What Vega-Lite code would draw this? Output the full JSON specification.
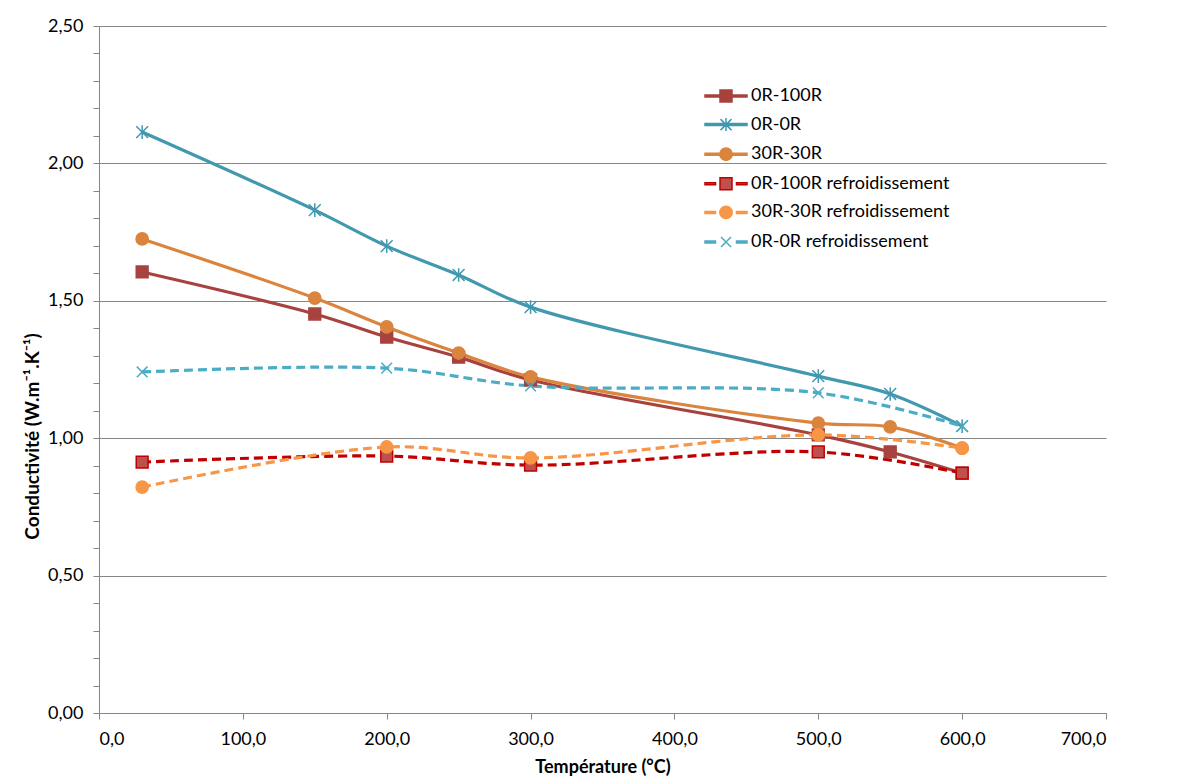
{
  "$schema": "https://vega.github.io/schema/vega-lite/v6.json",
  "autosize": "none",
  "width": 1007,
  "height": 687,
  "padding": {"left": 99, "top": 26, "right": 78, "bottom": 63},
  "background": "white",
  "config": {
    "locale": {"number": {"decimal": ",", "thousands": "\u00a0", "grouping": [3], "currency": ["", "\u00a0€"]}},
    "view": {"stroke": null},
    "font": "Lato"
  },
  "data": {
    "values": [
      {"series": "0R-100R", "t": 30, "k": 1.605},
      {"series": "0R-100R", "t": 150, "k": 1.452},
      {"series": "0R-100R", "t": 200, "k": 1.368},
      {"series": "0R-100R", "t": 250, "k": 1.295},
      {"series": "0R-100R", "t": 300, "k": 1.212},
      {"series": "0R-100R", "t": 500, "k": 1.012},
      {"series": "0R-100R", "t": 550, "k": 0.950},
      {"series": "0R-100R", "t": 600, "k": 0.873},
      {"series": "0R-0R", "t": 30, "k": 2.114},
      {"series": "0R-0R", "t": 150, "k": 1.830},
      {"series": "0R-0R", "t": 200, "k": 1.699},
      {"series": "0R-0R", "t": 250, "k": 1.594},
      {"series": "0R-0R", "t": 300, "k": 1.477},
      {"series": "0R-0R", "t": 500, "k": 1.226},
      {"series": "0R-0R", "t": 550, "k": 1.161},
      {"series": "0R-0R", "t": 600, "k": 1.044},
      {"series": "30R-30R", "t": 30, "k": 1.725},
      {"series": "30R-30R", "t": 150, "k": 1.510},
      {"series": "30R-30R", "t": 200, "k": 1.405},
      {"series": "30R-30R", "t": 250, "k": 1.310},
      {"series": "30R-30R", "t": 300, "k": 1.223},
      {"series": "30R-30R", "t": 500, "k": 1.055},
      {"series": "30R-30R", "t": 550, "k": 1.041},
      {"series": "30R-30R", "t": 600, "k": 0.964},
      {"series": "0R-100R refroidissement", "t": 30, "k": 0.913},
      {"series": "0R-100R refroidissement", "t": 200, "k": 0.935},
      {"series": "0R-100R refroidissement", "t": 300, "k": 0.902},
      {"series": "0R-100R refroidissement", "t": 500, "k": 0.950},
      {"series": "0R-100R refroidissement", "t": 600, "k": 0.873},
      {"series": "30R-30R refroidissement", "t": 30, "k": 0.822},
      {"series": "30R-30R refroidissement", "t": 200, "k": 0.968},
      {"series": "30R-30R refroidissement", "t": 300, "k": 0.928},
      {"series": "30R-30R refroidissement", "t": 500, "k": 1.012},
      {"series": "30R-30R refroidissement", "t": 600, "k": 0.964},
      {"series": "0R-0R refroidissement", "t": 30, "k": 1.241},
      {"series": "0R-0R refroidissement", "t": 200, "k": 1.255},
      {"series": "0R-0R refroidissement", "t": 300, "k": 1.190},
      {"series": "0R-0R refroidissement", "t": 500, "k": 1.165},
      {"series": "0R-0R refroidissement", "t": 600, "k": 1.044}
    ]
  },
  "encoding": {
    "x": {
      "field": "t", "type": "quantitative",
      "scale": {"domain": [0, 700], "nice": false},
      "axis": {
        "values": [0, 100, 200, 300, 400, 500, 600, 700],
        "format": ".1f",
        "grid": false,
        "domainColor": "#868686",
        "tickColor": "#868686",
        "tickSize": 6,
        "labelFont": "Lato",
        "labelFontSize": 18,
        "labelColor": "#000000",
        "labelPadding": 11,
        "title": "Température (°C)",
        "titleFont": "Lato",
        "titleFontSize": 18,
        "titleFontWeight": "bold",
        "titleColor": "#000000",
        "titlePadding": 10
      }
    },
    "y": {
      "field": "k", "type": "quantitative",
      "scale": {"domain": [0, 2.5], "nice": false},
      "axis": {
        "values": [0, 0.1, 0.2, 0.3, 0.4, 0.5, 0.6, 0.7, 0.8, 0.9, 1.0, 1.1, 1.2, 1.3, 1.4, 1.5, 1.6, 1.7, 1.8, 1.9, 2.0, 2.1, 2.2, 2.3, 2.4, 2.5],
        "format": ".2f",
        "labelExpr": "abs(datum.value*2 - round(datum.value*2)) < 0.001 ? datum.label : ''",
        "grid": true,
        "gridColor": "#868686",
        "gridOpacity": {"condition": {"test": "abs(datum.value*2 - round(datum.value*2)) < 0.001", "value": 1}, "value": 0},
        "domainColor": "#868686",
        "tickColor": "#868686",
        "tickSize": 6,
        "labelFont": "Lato",
        "labelFontSize": 18,
        "labelColor": "#000000",
        "labelPadding": 10,
        "labelOverlap": false,
        "title": "Conductivité (W.m⁻¹.K⁻¹)",
        "titleFont": "Lato",
        "titleFontSize": 19,
        "titleFontWeight": "bold",
        "titleColor": "#000000",
        "titlePadding": 5,
        "titleY": 410
      }
    }
  },
  "layer": [
    {
      "transform": [{"filter": {"field": "series", "oneOf": ["0R-100R", "0R-0R", "30R-30R"]}}],
      "mark": {"type": "line", "interpolate": "catmull-rom", "strokeWidth": 3.2},
      "encoding": {
        "color": {
          "field": "series", "type": "nominal",
          "scale": {
            "domain": ["0R-100R", "0R-0R", "30R-30R", "0R-100R refroidissement", "30R-30R refroidissement", "0R-0R refroidissement"],
            "range": ["#A8423F", "#4198AF", "#DB843D", "#C00000", "#F79646", "#4BACC6"]
          },
          "legend": {
            "orient": "none",
            "legendX": 616,
            "legendY": 59,
            "title": null,
            "symbolSize": 400,
            "symbolStrokeWidth": 1.5,
            "symbolOpacity": 1,
            "labelFont": "Lato",
            "labelFontSize": 18,
            "labelColor": "#000000",
            "labelLimit": 400,
            "labelOffset": 14,
            "rowPadding": 8.6,
            "padding": 0
          }
        }
      }
    },
    {
      "transform": [{"filter": {"field": "series", "oneOf": ["0R-100R refroidissement", "30R-30R refroidissement", "0R-0R refroidissement"]}}],
      "mark": {"type": "line", "interpolate": "catmull-rom", "strokeWidth": 3.2, "strokeDash": [9, 5]},
      "encoding": {
        "color": {"field": "series", "type": "nominal"}
      }
    },
    {
      "mark": {"type": "point", "size": 0, "strokeWidth": 0},
      "encoding": {
        "shape": {
          "field": "series", "type": "nominal",
          "scale": {
            "domain": ["0R-100R", "0R-0R", "30R-30R", "0R-100R refroidissement", "30R-30R refroidissement", "0R-0R refroidissement"],
            "range": [
              "M-2.1,-0.1H2.1V0.1H-2.1Z M-0.6,-0.6H0.6V0.6H-0.6Z",
              "M-2.1,-0.1H2.1V0.1H-2.1Z M-0.55,-0.55L0.55,0.55M-0.55,0.55L0.55,-0.55M0,-0.65V0.65",
              "M-2.1,-0.1H2.1V0.1H-2.1Z M0.62,0A0.62,0.62 0 1,1 -0.62,0A0.62,0.62 0 1,1 0.62,0Z",
              "M-2.1,-0.1H-1.05V0.1H-2.1Z M1.05,-0.1H2.1V0.1H1.05Z M-0.6,-0.6H0.6V0.6H-0.6Z",
              "M-2.1,-0.1H-1.05V0.1H-2.1Z M1.05,-0.1H2.1V0.1H1.05Z M0.62,0A0.62,0.62 0 1,1 -0.62,0A0.62,0.62 0 1,1 0.62,0Z",
              "M-2.1,-0.1H-1.05V0.1H-2.1Z M1.05,-0.1H2.1V0.1H1.05Z M-0.5,-0.5L0.5,0.5M-0.5,0.5L0.5,-0.5"
            ]
          }
        },
        "fill": {
          "field": "series", "type": "nominal",
          "scale": {
            "domain": ["0R-100R", "0R-0R", "30R-30R", "0R-100R refroidissement", "30R-30R refroidissement", "0R-0R refroidissement"],
            "range": ["#A8423F", "#4198AF", "#DB843D", "#C0504D", "#F79646", "#4BACC6"]
          }
        }
      }
    },
    {
      "transform": [{"filter": {"field": "series", "oneOf": ["0R-100R", "0R-100R refroidissement"]}}],
      "mark": {"type": "point", "shape": "square", "filled": false, "size": 140, "strokeWidth": 1.5, "opacity": 1},
      "encoding": {
        "color": {"field": "series", "type": "nominal"},
        "fill": {"field": "series", "type": "nominal"}
      }
    },
    {
      "transform": [{"filter": {"field": "series", "oneOf": ["30R-30R", "30R-30R refroidissement"]}}],
      "mark": {"type": "point", "shape": "circle", "filled": false, "size": 150, "strokeWidth": 1.5, "opacity": 1},
      "encoding": {
        "color": {"field": "series", "type": "nominal"},
        "fill": {"field": "series", "type": "nominal"}
      }
    },
    {
      "transform": [{"filter": {"field": "series", "equal": "0R-0R"}}],
      "mark": {"type": "point", "shape": "M-1,-1L1,1M-1,1L1,-1M0,-1.15V1.15", "filled": false, "size": 140, "strokeWidth": 1.5, "opacity": 1},
      "encoding": {
        "color": {"field": "series", "type": "nominal"}
      }
    },
    {
      "transform": [{"filter": {"field": "series", "equal": "0R-0R refroidissement"}}],
      "mark": {"type": "point", "shape": "M-0.9,-0.9L0.9,0.9M-0.9,0.9L0.9,-0.9", "filled": false, "size": 140, "strokeWidth": 1.5, "opacity": 1},
      "encoding": {
        "color": {"field": "series", "type": "nominal"}
      }
    }
  ]
}
